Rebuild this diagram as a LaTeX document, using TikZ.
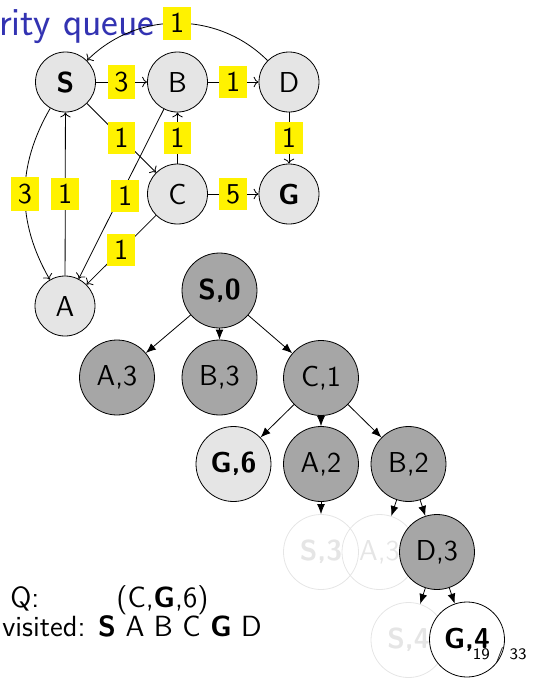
\documentclass[tikz,border=0pt]{standalone}
\usepackage{amsmath,amssymb}
\usetikzlibrary{arrows.meta,positioning}
\definecolor{titleblue}{rgb}{0.2,0.2,0.7}

\begin{document}
\begin{tikzpicture}[
  x=0.5pt,
  y=-0.5pt,
  every node/.style={font=\sffamily\fontsize{14.4}{17}\selectfont},
  gnode/.style={circle,draw,fill=black!10,minimum size=30pt,inner sep=0pt},
  tnode/.style={circle,draw,fill=black!35,minimum size=37.5pt,inner sep=0pt},
  tleaf/.style={tnode,fill=black!10},
  tgoal/.style={tnode,fill=white},
  tghost/.style={circle,draw=black!10,text=black!10,minimum size=37.5pt,inner sep=0pt},
  gedge/.style={-{To},thin},
  tedge/.style={-{Latex[length=5pt,width=4pt]},thin},
  weight/.style={fill=yellow,inner xsep=3.4pt,inner ysep=3.3pt},
  plaintext/.style={
    font=\sffamily\fontsize{14.6}{17}\selectfont,
    anchor=base west,
    inner sep=0pt
  }
]
\useasboundingbox (0,0) rectangle (532,682);

% Frame title (cut at the left)
\node[
  anchor=base east,
  inner sep=0pt,
  text=titleblue,
  font=\sffamily\fontsize{20}{24}\selectfont
] (title) at (155,35) {rity queue};

% Graph nodes
\node[gnode] (S) at (65.5,82) {\textbf{S}};
\node[gnode] (B) at (177.5,82) {B};
\node[gnode] (D) at (289,82) {D};
\node[gnode] (C) at (177.5,194) {C};
\node[gnode] (G) at (289,194) {\textbf{G}};
\node[gnode] (A) at (65,306) {A};

% Graph edges with weights
\draw[gedge] (S) -- node[weight] {3} (B);
\draw[gedge] (B) -- node[weight] {1} (D);
\draw[gedge] (D) to[bend right=45] node[weight] {1} (S);
\draw[gedge] (D) -- node[weight] {1} (G);
\draw[gedge] (C) -- node[weight] {1} (B);
\draw[gedge] (S) -- node[weight] {1} (C);
\draw[gedge] (C) -- node[weight] {5} (G);
\draw[gedge] (S) to[bend right=30] node[weight] {3} (A);
\draw[gedge] (A) -- node[weight] {1} (S);
\draw[gedge] (B) -- node[weight,xshift=2pt,yshift=-1pt] {1} (A);
\draw[gedge] (C) -- node[weight] {1} (A);

% Search tree
\node[tnode] (s0) at (219.5,290.5) {\textbf{S,0}};
\node[tnode] (a3) at (117,377.5) {A,3};
\node[tnode] (b3) at (219.5,377.5) {B,3};
\node[tnode] (c1) at (321,378) {C,1};
\node[tleaf] (g6) at (233.5,464) {\textbf{G,6}};
\node[tnode] (a2) at (321,464) {A,2};
\node[tnode] (b2) at (408.5,464) {B,2};
\node[tghost] (s3) at (321,552) {\textbf{S,3}};
\node[tghost] (a3b) at (379.5,552) {A,3};
\node[tnode] (d3) at (437,552) {D,3};
\node[tghost] (s4) at (408.5,640) {\textbf{S,4}};
\node[tgoal] (g4) at (467,639.5) {\textbf{G,4}};

\foreach \p/\c in {s0/a3,s0/b3,s0/c1,c1/g6,c1/a2,c1/b2,a2/s3,b2/a3b,b2/d3,d3/s4,d3/g4}
  \draw[tedge] (\p) -- (\c);

% Queue and visited list
\node[plaintext] (qlabel) at (10,607) {Q:};
\node[plaintext] (qlist) at (116,607) {(C,\textbf{G},6)};
\node[plaintext] (visited) at (2,636) {visited: \textbf{S} A B C \textbf{G} D};

% Page number
\node[
  anchor=base east,
  inner sep=0pt,
  font=\sffamily\fontsize{8}{9}\selectfont
] (pagenum) at (527,659) {19 / 33};

\end{tikzpicture}
\end{document}
